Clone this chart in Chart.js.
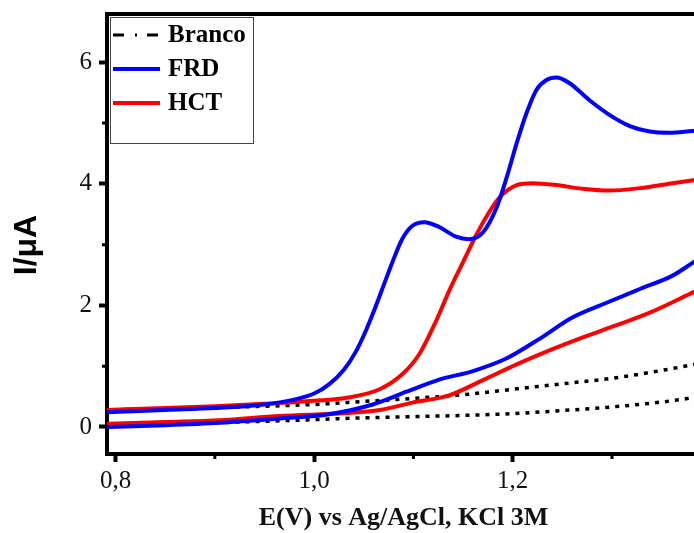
<!DOCTYPE html>
<html>
<head>
<meta charset="utf-8">
<script src="https://cdn.jsdelivr.net/npm/chart.js@4.4.1/dist/chart.umd.min.js"></script>
<style>
  html, body { margin: 0; padding: 0; overflow: hidden; background: #fff; }
  #wrap { width: 702px; height: 539px; }
</style>
</head>
<body>
<div id="wrap"><canvas id="myChart" width="702" height="539"></canvas></div>
<script>
// tick values / labels
const xTicks = [0.8, 1.0, 1.2];
const xTickLabels = ["0,8", "1,0", "1,2"];
const xMinor = [0.9, 1.1, 1.3];
const yTicks = [0, 2, 4, 6];
const yTickLabels = ["0", "2", "4", "6"];
const yMinor = [1, 3, 5];

// FRD - branch with the two peaks
const frdUpX = [0.79, 0.85, 0.9, 0.95, 0.98, 1.0, 1.015, 1.03, 1.042, 1.052, 1.061, 1.07, 1.079, 1.089, 1.099, 1.111, 1.126, 1.143, 1.156, 1.17, 1.184, 1.194, 1.204, 1.214, 1.224, 1.234, 1.244, 1.257, 1.277, 1.297, 1.318, 1.338, 1.358, 1.381, 1.39];
const frdUpY = [0.24, 0.28, 0.31, 0.37, 0.45, 0.55, 0.7, 0.94, 1.24, 1.58, 1.94, 2.33, 2.72, 3.1, 3.31, 3.37, 3.29, 3.13, 3.09, 3.2, 3.62, 4.11, 4.67, 5.17, 5.55, 5.71, 5.75, 5.66, 5.38, 5.14, 4.95, 4.86, 4.84, 4.87, 4.88];
// FRD - lower branch
const frdLowX = [0.79, 0.85, 0.905, 0.965, 1.015, 1.059, 1.093, 1.126, 1.16, 1.194, 1.227, 1.26, 1.294, 1.328, 1.361, 1.381, 1.39];
const frdLowY = [0.0, 0.03, 0.07, 0.14, 0.21, 0.37, 0.58, 0.78, 0.92, 1.13, 1.45, 1.8, 2.04, 2.27, 2.49, 2.7, 2.8];

// HCT
const hctUpX = [0.79, 0.85, 0.9, 0.95, 1.0, 1.033, 1.066, 1.089, 1.106, 1.123, 1.136, 1.149, 1.163, 1.175, 1.187, 1.204, 1.22, 1.244, 1.27, 1.297, 1.328, 1.361, 1.39];
const hctUpY = [0.28, 0.31, 0.34, 0.38, 0.43, 0.48, 0.62, 0.87, 1.2, 1.75, 2.24, 2.68, 3.15, 3.5, 3.78, 3.98, 4.01, 3.98, 3.92, 3.89, 3.93, 4.01, 4.08];
const hctLowX = [0.79, 0.85, 0.905, 0.965, 1.033, 1.066, 1.099, 1.136, 1.17, 1.204, 1.237, 1.27, 1.304, 1.338, 1.381, 1.39];
const hctLowY = [0.05, 0.08, 0.11, 0.18, 0.23, 0.28, 0.4, 0.52, 0.77, 1.03, 1.26, 1.47, 1.67, 1.88, 2.21, 2.28];

// Branco
const brUpX = [0.79, 0.9, 1.0, 1.05, 1.1, 1.15, 1.2, 1.25, 1.3, 1.35, 1.39];
const brUpY = [0.28, 0.32, 0.37, 0.42, 0.47, 0.53, 0.62, 0.71, 0.8, 0.93, 1.05];
const brLowX = [0.79, 0.9, 1.0, 1.05, 1.1, 1.15, 1.2, 1.25, 1.3, 1.35, 1.39];
const brLowY = [0.04, 0.07, 0.12, 0.15, 0.17, 0.19, 0.22, 0.27, 0.33, 0.41, 0.5];

const pts = (xs, ys) => xs.map((x, i) => ({ x: x, y: ys[i] }));

const blue = "#0000ff";
const red = "#ff0000";

// first dataset is drawn on top
const datasets = [
  { label: "FRD", data: pts(frdUpX, frdUpY), borderColor: blue, borderWidth: 4 },
  { label: "FRD", data: pts(frdLowX, frdLowY), borderColor: blue, borderWidth: 4 },
  { label: "HCT", data: pts(hctUpX, hctUpY), borderColor: red, borderWidth: 4 },
  { label: "HCT", data: pts(hctLowX, hctLowY), borderColor: red, borderWidth: 4 },
  { label: "Branco", data: pts(brUpX, brUpY), borderColor: "#000", borderWidth: 3.5, borderDash: [4, 6] },
  { label: "Branco", data: pts(brLowX, brLowY), borderColor: "#000", borderWidth: 3.5, borderDash: [4, 6] },
];

const legendItems = [
  { label: "Branco", color: "#000", width: 3, dash: [11, 11, 2, 10] },
  { label: "FRD", color: blue, width: 4, dash: [] },
  { label: "HCT", color: red, width: 4, dash: [] },
];

const serif = "'Liberation Serif', 'Times New Roman', serif";

const extras = {
  id: "extras",
  afterDraw(chart) {
    const { ctx, chartArea: a, scales } = chart;
    const x = scales.x, y = scales.y;
    ctx.save();
    // top and right frame
    ctx.strokeStyle = "#000";
    ctx.lineWidth = 4;
    ctx.beginPath();
    ctx.moveTo(a.left - 2, a.top);
    ctx.lineTo(a.right, a.top);
    ctx.lineTo(a.right, a.bottom);
    ctx.stroke();
    // minor ticks
    ctx.lineWidth = 3;
    ctx.beginPath();
    xMinor.forEach(v => {
      const px = x.getPixelForValue(v);
      ctx.moveTo(px, a.bottom);
      ctx.lineTo(px, a.bottom + 5);
    });
    yMinor.forEach(v => {
      const py = y.getPixelForValue(v);
      ctx.moveTo(a.left, py);
      ctx.lineTo(a.left - 5, py);
    });
    ctx.stroke();

    // legend
    const lx = a.left + 3, ly = a.top + 3;
    ctx.fillStyle = "#fff";
    ctx.fillRect(lx, ly, 143, 126);
    ctx.strokeStyle = "#444";
    ctx.lineWidth = 1;
    ctx.strokeRect(lx + 0.5, ly + 0.5, 143, 126);
    ctx.font = "bold 25px " + serif;
    ctx.textBaseline = "middle";
    ctx.textAlign = "left";
    legendItems.forEach((it, i) => {
      const cy = ly + 18 + i * 34;
      ctx.strokeStyle = it.color;
      ctx.lineWidth = it.width;
      ctx.setLineDash(it.dash);
      ctx.beginPath();
      ctx.moveTo(lx + 3, cy);
      ctx.lineTo(lx + 50, cy);
      ctx.stroke();
      ctx.setLineDash([]);
      ctx.fillStyle = "#000";
      ctx.fillText(it.label, lx + 58, cy + 1);
    });

    // y axis title
    ctx.translate(27, 245);
    ctx.rotate(-Math.PI / 2);
    ctx.font = "bold 32px 'Liberation Sans', Arial, sans-serif";
    ctx.textAlign = "center";
    ctx.fillStyle = "#000";
    ctx.fillText("I/\u03bcA", 0, 0);
    ctx.restore();
  }
};

const ctx = document.getElementById("myChart");

new Chart(ctx, {
  type: "line",
  data: { datasets: datasets },
  options: {
    responsive: false,
    animation: false,
    clip: 0,
    elements: {
      point: { radius: 0 },
      line: { cubicInterpolationMode: "monotone", borderCapStyle: "butt" },
    },
    layout: { padding: { top: 14, right: 2, bottom: 0, left: 0 } },
    plugins: {
      legend: { display: false },
      tooltip: { enabled: false },
    },
    scales: {
      x: {
        type: "linear",
        min: 0.7914,
        max: 1.3886,
        z: 1,
        afterBuildTicks: s => { s.ticks = xTicks.map(v => ({ value: v })); },
        afterFit: s => { s.height = 85; s.paddingLeft = 0; s.paddingRight = 0; },
        ticks: {
          callback: (v, i) => xTickLabels[i],
          font: { family: serif, size: 25 },
          color: "#111",
          padding: 4,
          maxRotation: 0,
          autoSkip: false,
        },
        grid: { drawOnChartArea: false, tickLength: 8, tickWidth: 4, tickColor: "#000" },
        border: { color: "#000", width: 4 },
        title: {
          display: true,
          text: "E(V) vs Ag/AgCl, KCl 3M",
          font: { family: serif, size: 26, weight: "bold" },
          color: "#111",
          padding: { top: 0, bottom: 5 },
        },
      },
      y: {
        min: -0.445,
        max: 6.795,
        z: 1,
        afterBuildTicks: s => { s.ticks = yTicks.map(v => ({ value: v })); },
        afterFit: s => { s.width = 107; s.paddingTop = 0; s.paddingBottom = 0; },
        ticks: {
          callback: (v, i) => yTickLabels[i],
          font: { family: serif, size: 25 },
          color: "#111",
          padding: 7,
        },
        grid: { drawOnChartArea: false, tickLength: 8, tickWidth: 4, tickColor: "#000" },
        border: { color: "#000", width: 4 },
      },
    },
  },
  plugins: [extras],
});
</script>
</body>
</html>
